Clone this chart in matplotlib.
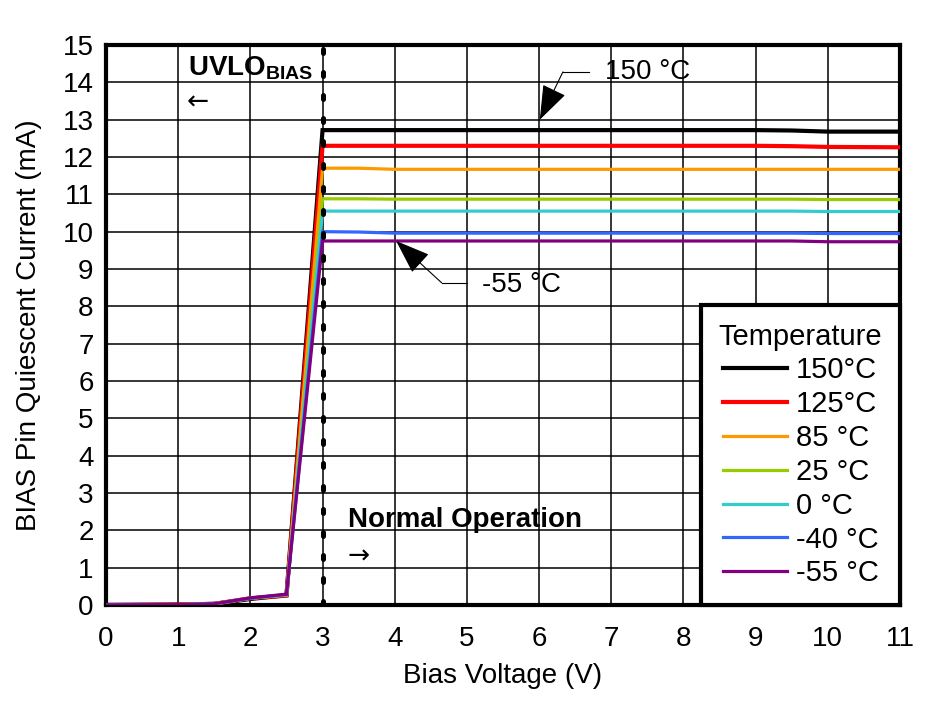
import numpy as np
import matplotlib.pyplot as plt

plt.rcParams['font.family'] = ['Liberation Sans', 'DejaVu Sans']
plt.rcParams['mathtext.fontset'] = 'custom'
plt.rcParams['mathtext.rm'] = 'Liberation Sans'
plt.rcParams['mathtext.bf'] = 'Liberation Sans:bold'

# ===== data =====
bias_v = [0, 1, 1.5, 2, 2.5, 3, 3.5, 4, 5, 6, 7, 8, 9, 9.5, 10, 11]
i_150 = [0, 0.01, 0.03, 0.16, 0.26, 12.72, 12.72, 12.72, 12.72, 12.72, 12.72, 12.72, 12.72, 12.71, 12.68, 12.68]
i_125 = [0, 0.01, 0.03, 0.18, 0.25, 12.30, 12.30, 12.30, 12.30, 12.30, 12.30, 12.30, 12.30, 12.29, 12.27, 12.26]
i_85 = [0, 0.01, 0.03, 0.18, 0.27, 11.70, 11.70, 11.67, 11.67, 11.67, 11.67, 11.67, 11.67, 11.67, 11.67, 11.67]
i_25 = [0, 0.01, 0.03, 0.18, 0.27, 10.88, 10.88, 10.87, 10.87, 10.87, 10.87, 10.87, 10.87, 10.87, 10.86, 10.86]
i_0 = [0, 0.01, 0.03, 0.18, 0.27, 10.55, 10.55, 10.55, 10.55, 10.55, 10.55, 10.55, 10.55, 10.55, 10.54, 10.54]
i_m40 = [0, 0.01, 0.03, 0.18, 0.28, 10.00, 9.99, 9.96, 9.96, 9.96, 9.96, 9.96, 9.96, 9.96, 9.95, 9.95]
i_m55 = [0, 0.01, 0.03, 0.19, 0.29, 9.75, 9.75, 9.75, 9.75, 9.75, 9.75, 9.75, 9.75, 9.75, 9.73, 9.73]

labels = ['150°C', '125°C', '85 °C', '25 °C', '0 °C', '-40 °C', '-55 °C']
colors = ['#000000', '#ff0000', '#ff9900', '#99cc00', '#33cccc', '#3366ff', '#800080']
widths = [3.0, 3.0, 2.3, 2.3, 2.3, 2.3, 2.3]
series = [i_150, i_125, i_85, i_25, i_0, i_m40, i_m55]

uvlo_v = 3.0

fig = plt.figure(figsize=(9.4, 7.01), dpi=100)
ax = fig.add_axes([0.1128, 0.137, 0.8446, 0.7988])

for y, lab, c, w in zip(series, labels, colors, widths):
    ax.plot(bias_v, y, color=c, lw=w, label=lab, zorder=3, solid_joinstyle='miter')

ax.axvline(uvlo_v, color='k', lw=3.6, dashes=(0.8, 3.8), dash_capstyle='round', zorder=4)

ax.set_xlim(0, 11)
ax.set_ylim(0, 15)
ax.set_xticks(range(0, 12))
ax.set_yticks(range(0, 16))
ax.grid(True, color='k', lw=1.1)
ax.tick_params(length=0, labelsize=20)
ax.tick_params(axis='x', pad=15)
ax.tick_params(axis='y', pad=9)
for s in ax.spines.values():
    s.set_linewidth(3)
ax.set_xlabel('Bias Voltage (V)', fontsize=20, labelpad=8)
ax.set_ylabel('BIAS Pin Quiescent Current (mA)', fontsize=20, labelpad=15)

# annotations
arrow_font = ['DejaVu Sans']
ax.text(1.13, 14.38, r'$\mathbf{UVLO}_{\mathbf{BIAS}}$', fontsize=20, va='center', ha='left')
ax.text(1.12, 13.47, '←', fontsize=19, va='center', ha='left', family=arrow_font)
ax.text(3.35, 2.28, 'Normal Operation', fontsize=20, fontweight='bold', va='center', ha='left')
ax.text(3.35, 1.31, '→', fontsize=19, va='center', ha='left', family=arrow_font)

head = '-|>,head_length=2.2,head_width=0.8'
ax.annotate('', xy=(6.01, 13.0), xytext=(6.33, 14.28),
            arrowprops=dict(arrowstyle=head, color='k', lw=0.8, shrinkA=0, shrinkB=0))
ax.plot([6.33, 6.69], [14.28, 14.28], color='k', lw=0.8)
ax.text(6.91, 14.28, '150 °C', fontsize=20, va='center', ha='left')

ax.annotate('', xy=(4.02, 9.75), xytext=(4.65, 8.63),
            arrowprops=dict(arrowstyle=head, color='k', lw=0.8, shrinkA=0, shrinkB=0))
ax.plot([4.65, 5.0], [8.63, 8.63], color='k', lw=0.8)
ax.text(5.21, 8.57, '-55 °C', fontsize=20, va='center', ha='left')

leg = ax.legend(loc='lower right', bbox_to_anchor=(1, 0), borderaxespad=0, title='Temperature',
                fontsize=21, title_fontsize=21, fancybox=False, framealpha=1, edgecolor='k',
                handlelength=2.2, handletextpad=0.3, labelspacing=0.2, borderpad=0.6)
leg.get_frame().set_linewidth(3)
leg.set_zorder(5)

fig.savefig('out.png', dpi=100)
